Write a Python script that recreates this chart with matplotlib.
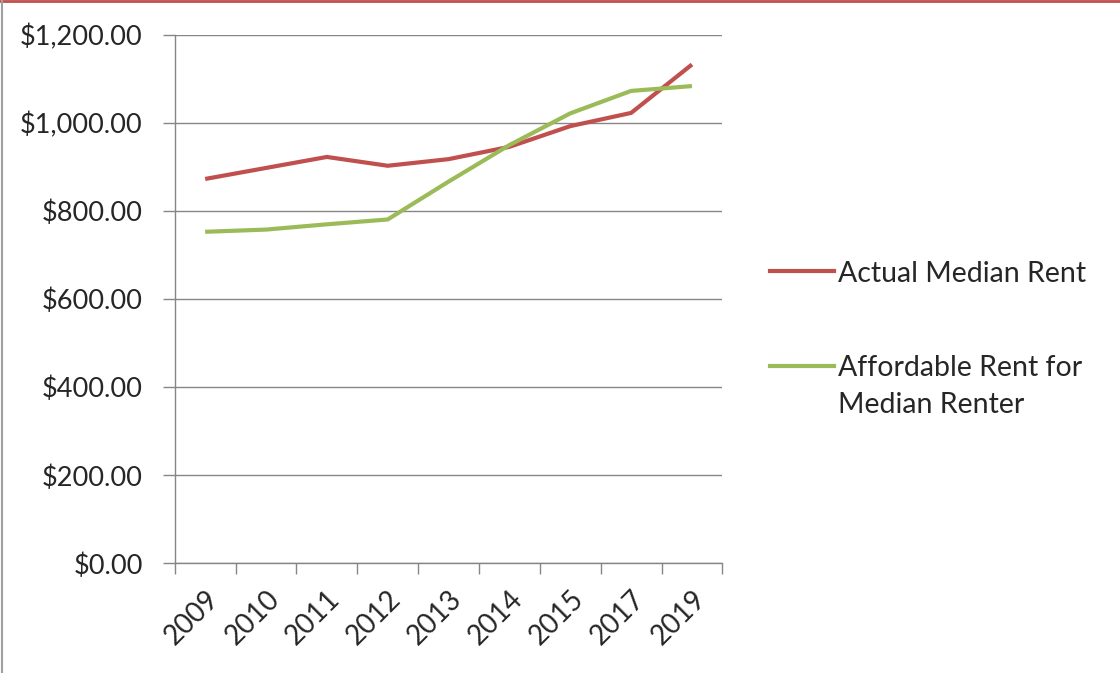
import matplotlib.pyplot as plt
from matplotlib.lines import Line2D
from matplotlib.ticker import FuncFormatter

years = ['2009', '2010', '2011', '2012', '2013', '2014', '2015', '2017', '2019']
actual_rent = [873, 898, 923, 903, 918, 946, 993, 1023, 1133]
affordable_rent = [753, 758, 770, 781, 867, 950, 1022, 1073, 1084]

RED = '#C0504D'
GREEN = '#9BBB59'
GRID = '#868686'
TEXT = '#262626'
W, H = 1120, 673
FS = 20.5

plt.rcParams['font.family'] = ['Lato', 'DejaVu Sans']


def fx(px):
    return px / W


def fy(py):
    return 1 - py / H


def main():
    fig = plt.figure(figsize=(W / 100, H / 100), dpi=100)
    ax = fig.add_axes([0.156, 0.163, 0.489, 0.785])

    x = list(range(len(years)))
    ax.plot(x, actual_rent, color=RED, lw=3,
            solid_capstyle='butt', solid_joinstyle='miter')
    ax.plot(x, affordable_rent, color=GREEN, lw=3,
            solid_capstyle='butt', solid_joinstyle='miter')

    ax.set_xlim(-0.5, len(years) - 0.5)
    ax.set_ylim(0, 1200)
    ax.set_yticks(range(0, 1201, 200))
    ax.yaxis.set_major_formatter(FuncFormatter(lambda v, p: '${:,.2f}'.format(v)))
    ax.grid(axis='y', color=GRID, lw=1)
    ax.set_axisbelow(True)

    # ticks between categories, labels at the centres (Excel style)
    ax.set_xticks([i - 0.5 for i in range(len(years) + 1)])
    ax.set_xticklabels([])
    ax.set_xticks(x, minor=True)
    ax.set_xticklabels(years, minor=True, rotation=45, ha='right',
                       rotation_mode='anchor', fontsize=FS - 0.5, color=TEXT)
    ax.tick_params(axis='x', which='major', length=8, color=GRID, width=1)
    ax.tick_params(axis='x', which='minor', length=0, pad=16)
    ax.tick_params(axis='y', length=9, color=GRID, width=1, labelsize=FS - 1,
                   labelcolor=TEXT, pad=14)

    for s in ['top', 'right']:
        ax.spines[s].set_visible(False)
    for s in ['left', 'bottom']:
        ax.spines[s].set_color(GRID)
        ax.spines[s].set_linewidth(1)

    # legend drawn by hand so the handle sits on the first text line
    fig.add_artist(Line2D([fx(770), fx(834)], [fy(271), fy(271)], color=RED,
                          lw=3, transform=fig.transFigure))
    fig.text(fx(838), fy(282), 'Actual Median Rent', fontsize=FS,
             color=TEXT, va='baseline')
    fig.add_artist(Line2D([fx(770), fx(834)], [fy(366), fy(366)], color=GREEN,
                          lw=3, transform=fig.transFigure))
    fig.text(fx(838), fy(376), 'Affordable Rent for', fontsize=FS,
             color=TEXT, va='baseline')
    fig.text(fx(838), fy(413), 'Median Renter', fontsize=FS,
             color=TEXT, va='baseline')

    # border of the chart area
    fig.add_artist(Line2D([0, 1], [0.998, 0.998], color=RED, lw=2,
                          transform=fig.transFigure))
    fig.add_artist(Line2D([0.002, 0.002], [0, 1], color='#A0A0A0', lw=1.5,
                          transform=fig.transFigure))

    fig.savefig('out.png', dpi=100)


if __name__ == '__main__':
    main()
